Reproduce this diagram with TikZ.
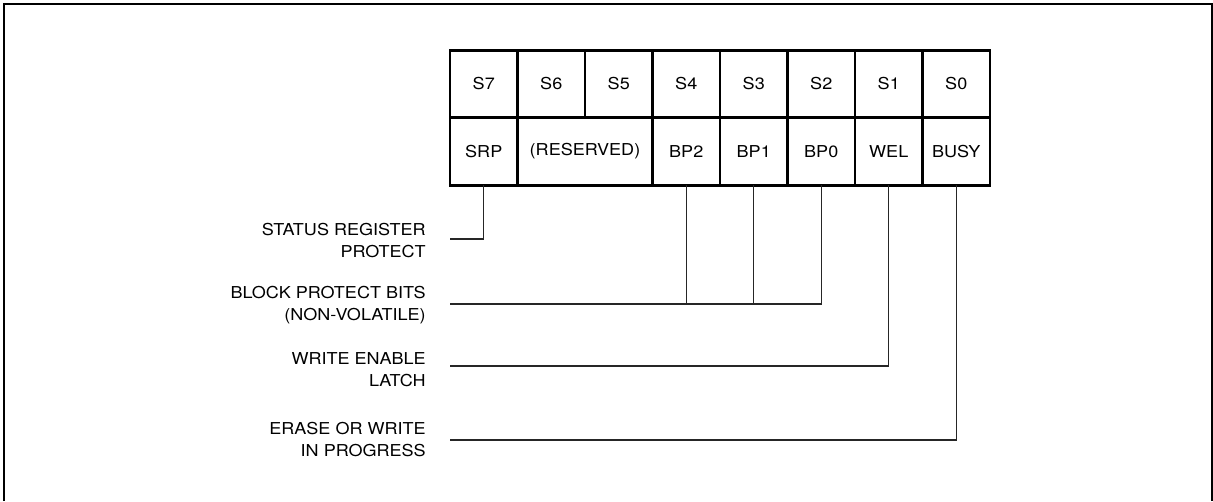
\documentclass[tikz,border=0pt]{standalone}
\usepackage{fontspec}
\setmainfont[FakeStretch=1.1]{TeX Gyre Heros}
\newfontfamily\regfont[FakeStretch=1.1]{TeX Gyre Heros}
\usetikzlibrary{positioning}

\begin{document}
\begin{tikzpicture}[x=0.75pt, y=-0.75pt, node distance=50.625pt]
\tikzstyle{cell} = [rectangle, draw, line width=2.2pt, minimum width=50.625pt, minimum height=50.625pt, inner sep=0pt, outer sep=0pt, font=\regfont\fontsize{12.3}{16.9}\selectfont]
\tikzstyle{desc} = [anchor=east, align=right, inner sep=0pt, font=\regfont\fontsize{12.3}{16.9}\selectfont]
\tikzstyle{wire} = [draw, line width=0.8pt, black!85]
\tikzstyle{frame} = [draw, line width=1.5pt]

\useasboundingbox (0,0) rectangle (1213,501);
\path [frame] (4,501) -- (4,4) -- (1212,4) -- (1212,501);

% status register bits
\node [cell] (s7) at (483.75,84) {S7};
\node [cell, right of=s7] (s6) {S6};
\node [cell, right of=s6] (s5) {S5};
\node [cell, right of=s5] (s4) {S4};
\node [cell, right of=s4] (s3) {S3};
\node [cell, right of=s3] (s2) {S2};
\node [cell, right of=s2] (s1) {S1};
\node [cell, right of=s1] (s0) {S0};

\node [cell, below of=s7] (srp) {SRP};
\node [cell, below of=s6, xshift=25.3125pt, minimum width=101.25pt] (res) {(RESERVED)};
\node [cell, below of=s4] (bp2) {BP2};
\node [cell, below of=s3] (bp1) {BP1};
\node [cell, below of=s2] (bp0) {BP0};
\node [cell, below of=s1] (wel) {WEL};
\node [cell, below of=s0] (busy) {BUSY};

% descriptions
\node [desc] (srptext) at (426,240.5) {STATUS REGISTER\\PROTECT};
\node [desc] (bptext) at (426,305) {BLOCK PROTECT BITS\\(NON-VOLATILE)};
\node [desc] (weltext) at (426,369.5) {WRITE ENABLE\\LATCH};
\node [desc] (busytext) at (426,439.5) {ERASE OR WRITE\\IN PROGRESS};

\coordinate (srp-end) at (450,239);
\coordinate (bp-end) at (450,304);
\coordinate (wel-end) at (450,366);
\coordinate (busy-end) at (450,440);

\path [wire] (srp.south) |- (srp-end);
\path [wire] (bp0.south) |- (bp-end);
\path [wire] (bp1.south) -- (bp1.south |- bp-end);
\path [wire] (bp2.south) -- (bp2.south |- bp-end);
\path [wire] (wel.south) |- (wel-end);
\path [wire] (busy.south) |- (busy-end);

\end{tikzpicture}
\end{document}
